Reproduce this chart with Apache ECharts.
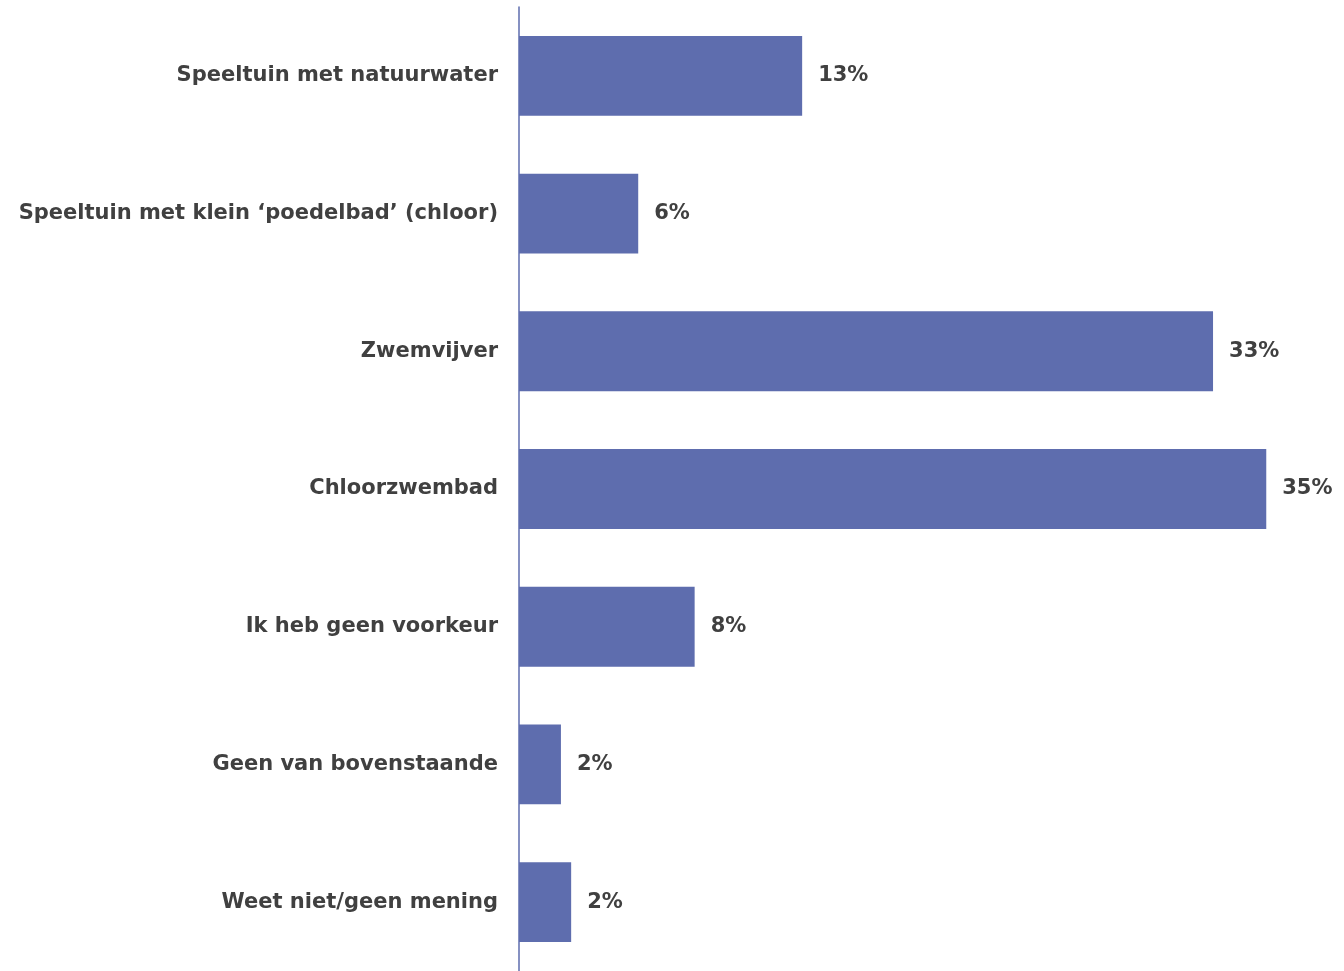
<!DOCTYPE html>
<html>
<head>
<meta charset="utf-8">
<script src="https://cdn.jsdelivr.net/npm/echarts@6/dist/echarts.min.js"></script>
<style>
html,body{margin:0;padding:0;background:#fff;}
#chart{width:1344px;height:971px;}
</style>
</head>
<body>
<div id="chart"></div>
<script>
const categories = [
  "Speeltuin met natuurwater",
  "Speeltuin met klein \u2018poedelbad\u2019 (chloor)",
  "Zwemvijver",
  "Chloorzwembad",
  "Ik heb geen voorkeur",
  "Geen van bovenstaande",
  "Weet niet/geen mening"
];
const values = [13.3, 5.6, 32.6, 35.1, 8.25, 1.97, 2.45];

const FONT = '"DejaVu Sans", Verdana, sans-serif';
const chart = echarts.init(document.getElementById('chart'));
chart.setOption({
  animation: false,
  grid: { left: 519, top: 7, width: 809, height: 968, containLabel: false },
  xAxis: {
    type: 'value', min: 0, max: 38,
    axisLine: { show: false }, axisTick: { show: false },
    axisLabel: { show: false }, splitLine: { show: false }
  },
  yAxis: {
    type: 'category', inverse: true, data: categories,
    axisLine: { show: true, lineStyle: { color: '#5E6DAE', width: 1.5 } },
    axisTick: { show: false },
    axisLabel: {
      margin: 21, color: '#404040', fontFamily: FONT,
      fontWeight: 'bold', fontSize: 21, padding: [6, 0, 0, 0]
    }
  },
  series: [{
    type: 'bar', data: values, barCategoryGap: '42%',
    itemStyle: { color: '#5E6DAE' },
    label: {
      show: true, position: 'right', distance: 16,
      color: '#404040', fontFamily: FONT, fontWeight: 'bold', fontSize: 21,
      padding: [7, 0, 0, 0],
      formatter: p => Math.round(p.value) + '%'
    }
  }]
});
</script>
</body>
</html>
